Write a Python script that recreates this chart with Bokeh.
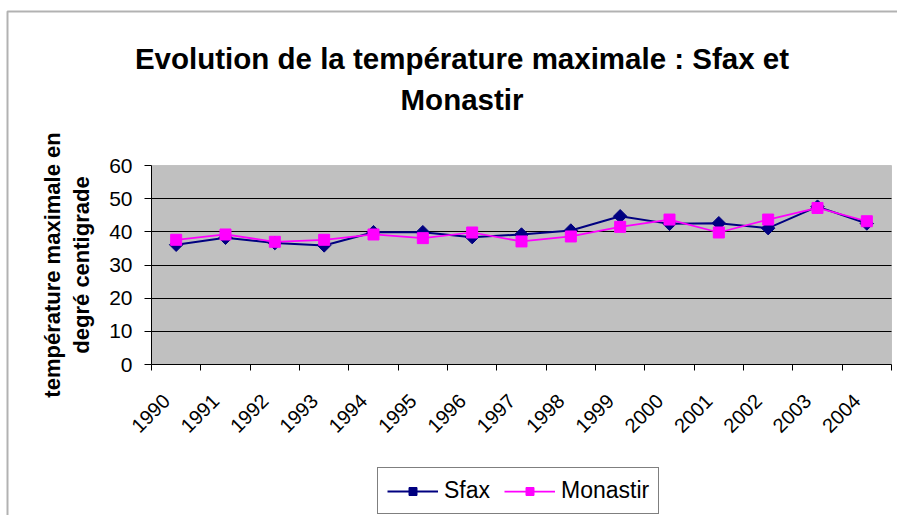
import math
from bokeh.plotting import figure
from bokeh.models import (ColumnDataSource, FixedTicker, Legend, LegendItem, Label,
                          BoxAnnotation, Range1d)
from bokeh.embed import file_html
from bokeh.resources import INLINE

# ---- data ----
years = ["1990", "1991", "1992", "1993", "1994", "1995", "1996", "1997",
         "1998", "1999", "2000", "2001", "2002", "2003", "2004"]
sfax = [36.1, 38.2, 36.6, 35.9, 39.9, 39.9, 38.4, 39.2,
        40.4, 44.7, 42.4, 42.6, 41.1, 47.6, 42.5]
monastir = [37.6, 39.2, 37.0, 37.6, 39.2, 38.1, 39.8, 37.1,
            38.6, 41.5, 43.7, 39.8, 43.7, 47.2, 43.2]
y_ticks = [0, 10, 20, 30, 40, 50, 60]
title_lines = ["Evolution de la température maximale : Sfax et", "Monastir"]
y_label = "température maximale en\ndegré centigrade"
series_names = ["Sfax", "Monastir"]

# ---- layout (pixels on the 897x515 canvas) ----
FONT = "Liberation Sans"
W, H = 897, 515
PL, PR, PT, PB = 151, 891, 165, 364          # grey plot area edges
LABEL_SHIFT = 0.2                            # year labels sit a little left of centre

n = len(years)
ux = (PR - PL) / n
uy = (PB - PT) / (y_ticks[-1] - y_ticks[0])
x_range = Range1d(-PL / ux, n + (W - PR) / ux)
y_range = Range1d(y_ticks[0] - (H - PB) / uy, y_ticks[-1] + PT / uy)

p = figure(width=W, height=H, output_backend="svg", toolbar_location=None,
           x_range=x_range, y_range=y_range,
           min_border_left=0, min_border_right=0, min_border_top=0, min_border_bottom=0)
p.title.visible = False
p.background_fill_color = "white"
p.border_fill_color = "white"
p.outline_line_color = None

# grey plot area
p.add_layout(BoxAnnotation(left=0, right=n, bottom=y_ticks[0], top=y_ticks[-1],
                           fill_color="#C0C0C0", fill_alpha=1,
                           line_color="#808080", line_width=1, level="image"))

# outer chart frame (left and top edges visible)
p.add_layout(BoxAnnotation(left=7, right=W + 50, top=H - 11, bottom=-50,
                           left_units="screen", right_units="screen",
                           top_units="screen", bottom_units="screen",
                           fill_color=None, line_color="black", line_width=2))

# ---- x axis: tick marks at category boundaries, rotated year labels ----
label_pos = [round(i + 0.5 - LABEL_SHIFT, 3) for i in range(n)]
xa = p.xaxis[0]
xa.fixed_location = y_ticks[0]
xa.bounds = (0, n)
xa.ticker = FixedTicker(ticks=label_pos, minor_ticks=list(range(n + 1)))
xa.major_label_overrides = {pos: yr for pos, yr in zip(label_pos, years)}
xa.major_tick_out = 0
xa.major_tick_in = 0
xa.major_tick_line_color = None
xa.minor_tick_out = 6
xa.minor_tick_in = 0
xa.minor_tick_line_color = "black"
xa.major_label_orientation = math.pi / 4
xa.major_label_standoff = 27
xa.major_label_text_font = FONT
xa.major_label_text_font_size = "20px"
xa.major_label_text_color = "black"
xa.axis_line_color = "black"
p.xgrid.visible = False

# ---- y axis ----
ya = p.yaxis[0]
ya.fixed_location = 0
ya.bounds = (y_ticks[0], y_ticks[-1])
ya.ticker = FixedTicker(ticks=y_ticks)
ya.major_tick_out = 7
ya.major_tick_in = 0
ya.minor_tick_line_color = None
ya.major_label_standoff = 12
ya.major_label_text_font = FONT
ya.major_label_text_font_size = "21px"
ya.major_label_text_color = "black"
ya.axis_line_color = "black"
ya.major_tick_line_color = "black"
ya.axis_label = y_label
ya.axis_label_text_font = FONT
ya.axis_label_text_font_style = "bold"
ya.axis_label_text_font_size = "22px"
ya.axis_label_text_color = "black"
ya.axis_label_text_line_height = 1.15
ya.axis_label_standoff = 12

# horizontal grid lines limited to the grey plot area
grid_ticks = y_ticks[1:-1]
yg = p.ygrid[0]
if "cross_bounds" in yg.properties():
    yg.ticker = FixedTicker(ticks=grid_ticks)
    yg.cross_bounds = (0, n)
    yg.grid_line_color = "black"
    yg.grid_line_width = 1
else:
    yg.visible = False
    p.segment(x0=[0] * len(grid_ticks), x1=[n] * len(grid_ticks),
              y0=grid_ticks, y1=grid_ticks, line_color="black", line_width=1,
              level="underlay")

# ---- series ----
xs = [i + 0.5 for i in range(n)]
src = ColumnDataSource(dict(x=xs, year=years, sfax=sfax, monastir=monastir))

r1 = p.line("x", "sfax", source=src, line_color="#000080", line_width=2)
r2 = p.scatter("x", "sfax", source=src, marker="square", angle=math.pi / 4,
               size=9.5, fill_color="#000080", line_color="#000080")
r3 = p.line("x", "monastir", source=src, line_color="#FF00FF", line_width=1.75)
r4 = p.scatter("x", "monastir", source=src, marker="square", size=11,
               fill_color="#FF00FF", line_color="#FF00FF")

# ---- title ----
p.add_layout(Label(x=461.5, y=H - 58, x_units="screen", y_units="screen",
                   text=title_lines[0], text_align="center", text_baseline="alphabetic",
                   text_font=FONT, text_font_style="bold", text_font_size="29.5px",
                   text_color="black"))
p.add_layout(Label(x=461.5, y=H - 99, x_units="screen", y_units="screen",
                   text=title_lines[1], text_align="center", text_baseline="alphabetic",
                   text_font=FONT, text_font_style="bold", text_font_size="29.5px",
                   text_color="black"))

# ---- legend ----
legend = Legend(items=[LegendItem(label=series_names[0], renderers=[r1, r2]),
                       LegendItem(label=series_names[1], renderers=[r3, r4])],
                orientation="horizontal", location=(377, 1),
                label_text_font=FONT, label_text_font_size="23px",
                label_text_color="black",
                border_line_color="black", border_line_width=1,
                background_fill_color="white", background_fill_alpha=1,
                glyph_width=51, glyph_height=20, label_standoff=6,
                spacing=14, padding=9, margin=0)
p.add_layout(legend)

open("out.html", "w").write(file_html(p, INLINE))
